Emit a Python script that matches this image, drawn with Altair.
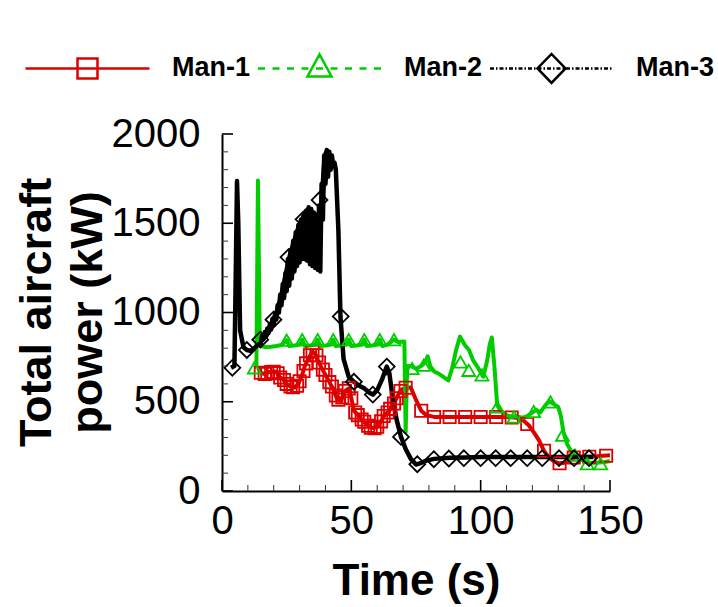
import altair as alt
import pandas as pd

SERIES = ["Man-1", "Man-2", "Man-3"]
COLORS = ["#dd0000", "#00cc00", "#000000"]

# ---- Man-1 (red, squares) ----
M1_T = [14, 15, 16.5, 18, 19.5, 21, 22, 23.5, 25, 26.5, 28, 29.5, 31, 32, 33.5, 35, 36, 37, 38.5, 40,
        41.5, 43, 44.5, 46, 47.5, 49, 50, 51, 52.5, 54, 55.5, 57, 58.5, 60, 61.5, 63, 64.5, 66, 67.5, 69,
        71, 73, 75, 77, 79, 82, 86, 90, 95, 100, 105, 110, 114, 116.5, 118.5, 120.5, 122.5, 124.5, 126.5, 128.5,
        130.5, 132.5, 134.5, 137, 140, 143, 146, 150]
M1_P = [690, 662, 655, 665, 670, 668, 640, 628, 600, 585, 580, 600, 650, 700, 745, 780, 770, 735, 690, 650,
        610, 570, 515, 505, 560, 575, 520, 450, 425, 400, 380, 360, 352, 360, 390, 430, 445, 480, 520, 565,
        578, 580, 510, 450, 425, 415, 415, 415, 415, 415, 415, 415, 410, 395, 370, 330, 285, 225, 185, 165,
        155, 158, 180, 192, 192, 192, 196, 200]
M1_MT = [15, 16.5, 17.5, 19, 20, 21.5, 22.5, 24, 25, 26.5, 27.5, 29, 30, 31.5, 32.5, 34, 35, 36.5, 37.5, 39,
         40, 41.5, 42.5, 44, 45, 46.5, 47.5, 49, 50, 51.5, 52.5, 54, 55, 56.5, 57.5, 59, 60, 61.5, 62.5, 64,
         65, 66.5, 67.5, 69, 71, 77, 82, 88, 94, 100, 106, 112, 118, 124.5, 130.5, 136, 142, 148.5]
M1_MP = [662, 655, 660, 667, 668, 660, 636, 622, 600, 585, 582, 590, 615, 672, 715, 760, 780, 760, 720, 680,
         650, 610, 585, 535, 512, 525, 560, 575, 520, 440, 425, 400, 388, 365, 355, 352, 360, 390, 420, 440,
         460, 490, 520, 560, 578, 450, 415, 415, 415, 415, 415, 412, 375, 225, 155, 188, 192, 198]

# ---- Man-2 (green, triangles) ----
M2_T = [12.5, 13.3, 13.9, 14.6, 15.5, 17, 19, 21, 23, 25, 26, 28, 30, 31, 32, 34, 36, 37, 38, 40,
        42, 43, 44, 46, 48, 49, 50, 52, 54, 55, 56, 58, 60, 61, 62, 64, 66.5, 68, 70.5, 71,
        71.6, 73, 75, 77, 78.5, 79.5, 80.5, 82, 84, 86, 87.5, 89, 90.5, 92, 93, 94, 95.5, 97, 99, 101,
        102.5, 103.5, 104.3, 105.3, 106.4, 107.5, 108.5, 110, 112, 114, 116, 118, 120, 121.5, 123, 125, 126.5, 128, 130, 131,
        132, 133.5, 135.5, 138, 140, 142, 145, 148, 150]
M2_P = [690, 700, 1740, 850, 810, 805, 808, 812, 818, 845, 812, 815, 820, 848, 812, 815, 820, 848, 812, 815,
        820, 848, 812, 815, 820, 848, 812, 815, 820, 848, 812, 815, 820, 848, 812, 820, 848, 835, 838, 330,
        700, 700, 685, 700, 720, 755, 700, 670, 655, 635, 620, 690, 790, 865, 840, 815, 790, 735, 690, 640,
        730, 820, 860, 700, 480, 455, 440, 425, 415, 420, 410, 420, 440, 455, 440, 480, 505, 490, 470, 420,
        330, 260, 210, 180, 168, 158, 158, 162, 168]
M2_MT = [12.5, 25, 31, 37, 43, 49, 55, 61, 66.5, 73.5, 78, 92.2, 95.4, 100.5, 106.4, 112.9, 120.5, 127, 131.6,
         136.5, 141.2, 146.4]
M2_MP = [690, 845, 848, 848, 848, 848, 848, 848, 848, 686, 705, 723, 676, 650, 471, 415, 445, 499, 312,
         200, 153, 153]

# ---- Man-3 (black, diamonds) ----
M3_T = [3.5, 4.8, 5.3, 5.8, 6.3, 7, 8.3, 9.6, 11, 12.5, 14,
        15, 15.5, 16, 16.5, 17, 17.5, 18, 18.5, 19, 19.5, 20, 20.5, 21, 21.5, 22, 22.5, 23, 23.5, 24, 24.5,
        25, 25.5, 26, 26.5, 27, 27.5, 28, 28.5, 29, 29.5, 30, 30.5, 31, 31.5, 32, 32.5, 33, 33.5, 34, 34.5,
        35, 35.5, 36, 36.5, 37, 37.5, 38, 38.5, 39, 39.5, 40, 40.5, 41, 41.5, 42, 42.5, 43, 43.5,
        44, 45, 45.8, 47, 49, 51, 53, 55, 57, 58.3, 60, 62, 63.7, 64.7, 66, 67.5, 69.2, 71, 73, 75, 77, 79,
        82, 88, 94, 100, 106, 112, 118, 124, 130, 136, 143.5]
M3_P = [690, 700, 1200, 1736, 1500, 900, 805, 790, 785, 800, 820,
        830, 870, 850, 890, 865, 910, 885, 935, 905, 965, 930, 990, 960, 1040, 1000, 1100, 1040, 1160, 1080, 1220,
        1120, 1300, 1150, 1350, 1190, 1400, 1230, 1450, 1260, 1490, 1280, 1520, 1300, 1550, 1300, 1570, 1290, 1590, 1270, 1580,
        1260, 1560, 1250, 1540, 1240, 1600, 1230, 1720, 1520, 1880, 1720, 1910, 1760, 1900, 1800, 1880, 1820, 1840,
        1800, 1460, 975, 740, 640, 612, 590, 575, 550, 540, 565, 630, 697, 660, 520, 400, 303, 235, 180, 148, 158, 170,
        180, 186, 188, 190, 190, 190, 190, 190, 190, 190, 190]
# envelope of the dense oscillation of Man-3 (solid black band)
M3_BAND_T = [15, 17, 19, 21, 23, 25, 27, 29, 31, 33, 35, 37, 38, 39, 40, 41, 42, 43]
M3_BAND_LO = [820, 850, 890, 950, 1030, 1110, 1180, 1250, 1290, 1280, 1260, 1240, 1230, 1500, 1700, 1750, 1790, 1800]
M3_BAND_HI = [860, 900, 960, 1040, 1160, 1300, 1400, 1490, 1550, 1590, 1570, 1560, 1700, 1880, 1910, 1910, 1890, 1850]
M3_MT = [4, 9.6, 14.8, 19.9, 25.7, 31.5, 37.7, 45.9, 51, 58.3, 63.7, 69.2, 75.5, 81.9, 87.7, 93.5, 100,
         105.8, 111.6, 118, 123.8, 130.3, 136.1, 141.9]
M3_MP = [690, 790, 848, 960, 1310, 1522, 1630, 978, 612, 540, 697, 303, 150, 178, 182, 184, 184, 184, 184,
         184, 184, 184, 184, 184]

X_MAJOR = [0, 50, 100, 150]
X_MINOR = [10, 20, 30, 40, 60, 70, 80, 90, 110, 120, 130, 140]
Y_MAJOR = [0, 500, 1000, 1500, 2000]
Y_MINOR = [100, 200, 300, 400, 600, 700, 800, 900, 1100, 1200, 1300, 1400, 1600, 1700, 1800, 1900]

W, H = 388, 357
FONT = "Liberation Sans"

# ---- legend symbol paths (line + marker), unit = 62 px ----
U = 62.0
BOUNDS = "M-1,-0.3M1,0.3"  # equal bounds for every legend symbol


def seg(a, b):
    return f"M{a / U:.4f},0L{b / U:.4f},0"


red_path = BOUNDS + seg(-62, 62) + "M-0.161,-0.161L0.161,-0.161L0.161,0.161L-0.161,0.161Z"
green_path = BOUNDS + "".join(seg(k * 14.5 - 3.5, k * 14.5 + 3.5) for k in range(-4, 5))
green_path += "M0,-0.226L0.194,0.129L-0.194,0.129Z"
black_parts = [BOUNDS]
pos = -61.5
while pos < 61.5:
    black_parts.append(seg(pos, min(pos + 4, 61.5)))
    pos += 6
    if pos < 61.5:
        black_parts.append(seg(pos, min(pos + 1.5, 61.5)))
    pos += 3.5
black_path = "".join(black_parts) + "M-0.226,0L0,-0.234L0.226,0L0,0.234Z"
PATHS = [red_path, green_path, black_path]

xscale = alt.Scale(domain=[0, 150], nice=False, zero=False)
yscale = alt.Scale(domain=[0, 2000], nice=False, zero=False)

XAXIS = alt.Axis(
    title="Time (s)", values=X_MAJOR, ticks=False, grid=False, format="d",
    domainColor="black", domainWidth=2,
    labelFont=FONT, labelFontSize=40, labelColor="black", labelPadding=10,
    labelFlush=False, labelOverlap=False,
    titleFont=FONT, titleFontSize=44, titleFontWeight="bold", titleColor="black",
    titleX=W / 2, titleY=103, titleBaseline="alphabetic", titleAlign="center",
)
YAXIS = alt.Axis(
    title=["Total aircraft", "power (kW)"], values=Y_MAJOR, ticks=False, grid=False, format="d",
    domainColor="black", domainWidth=2,
    labelFont=FONT, labelFontSize=40, labelColor="black", labelPadding=22,
    labelFlush=False, labelOverlap=False,
    titleFont=FONT, titleFontSize=45, titleFontWeight="bold", titleColor="black",
    titleX=-186, titleY=178, titleAngle=270, titleAlign="center", titleBaseline="middle",
    titleLineHeight=51,
)
X = alt.X("t:Q", scale=xscale, axis=XAXIS)
Y = alt.Y("p:Q", scale=yscale, axis=YAXIS)

LEG = dict(
    orient="none", legendX=-198, legendY=-129.5, direction="horizontal", columns=3,
    title=None, padding=0, symbolSize=U * U * 4, symbolStrokeWidth=2.5,
    symbolFillColor="transparent", symbolOffset=0, symbolOpacity=1,
    labelFont=FONT, labelFontSize=27, labelFontWeight="bold", labelColor="black",
    labelOffset=21, columnPadding=1, labelLimit=0,
)

legend_df = pd.DataFrame({"series": SERIES})
legend_layer = alt.Chart(legend_df).transform_filter("false").mark_point(
    filled=False, strokeWidth=2.5, opacity=1
).encode(
    color=alt.Color("series:N", scale=alt.Scale(domain=SERIES, range=COLORS), legend=alt.Legend(**LEG)),
    shape=alt.Shape("series:N", scale=alt.Scale(domain=SERIES, range=PATHS), legend=alt.Legend(**LEG)),
)

line_data = [(M1_T, M1_P), (M2_T, M2_P), (M3_T, M3_P)]
mark_data = [(M1_MT, M1_MP), (M2_MT, M2_MP), (M3_MT, M3_MP)]
shapes = ["square", "triangle-up", "diamond"]
sizes = [150, 170, 250]
lwidths = [4, 4, 4.5]

layers = [legend_layer]
for i in range(3):
    if i == 2:
        bdf = pd.DataFrame({"t": M3_BAND_T, "p": M3_BAND_LO, "p2": M3_BAND_HI})
        layers.append(
            alt.Chart(bdf).mark_area(color=COLORS[2], opacity=1, interpolate="monotone")
            .encode(x=X, y=Y, y2="p2:Q")
        )
    ldf = pd.DataFrame({"t": line_data[i][0], "p": line_data[i][1]})
    ldf["i"] = range(len(ldf))
    layers.append(
        alt.Chart(ldf).mark_line(color=COLORS[i], strokeWidth=lwidths[i], strokeJoin="round")
        .encode(x=X, y=Y, order="i:Q")
    )
for i in range(3):
    mdf = pd.DataFrame({"t": mark_data[i][0], "p": mark_data[i][1]})
    layers.append(
        alt.Chart(mdf).mark_point(shape=shapes[i], size=sizes[i], filled=False,
                                  color=COLORS[i], strokeWidth=1.8, opacity=1)
        .encode(x=X, y=Y)
    )

# inward ticks
layers.append(alt.Chart(pd.DataFrame({"t": X_MAJOR})).mark_rule(color="black", strokeWidth=1.6)
              .encode(x=X, y=alt.value(H), y2=alt.value(H - 11)))
layers.append(alt.Chart(pd.DataFrame({"t": X_MINOR})).mark_rule(color="#333333", strokeWidth=1)
              .encode(x=X, y=alt.value(H), y2=alt.value(H - 6)))
layers.append(alt.Chart(pd.DataFrame({"p": Y_MAJOR})).mark_rule(color="black", strokeWidth=1.6)
              .encode(y=Y, x=alt.value(0), x2=alt.value(11)))
layers.append(alt.Chart(pd.DataFrame({"p": Y_MINOR})).mark_rule(color="#333333", strokeWidth=1)
              .encode(y=Y, x=alt.value(0), x2=alt.value(6)))

chart = alt.layer(*layers).properties(
    width=W, height=H,
    autosize=alt.AutoSizeParams(type="none"),
    padding={"left": 222, "top": 134, "right": 718 - 222 - W, "bottom": 607 - 134 - H},
    background="white",
).configure_view(stroke=None)

chart.save("out.html", embed_options={"renderer": "svg", "actions": False})
